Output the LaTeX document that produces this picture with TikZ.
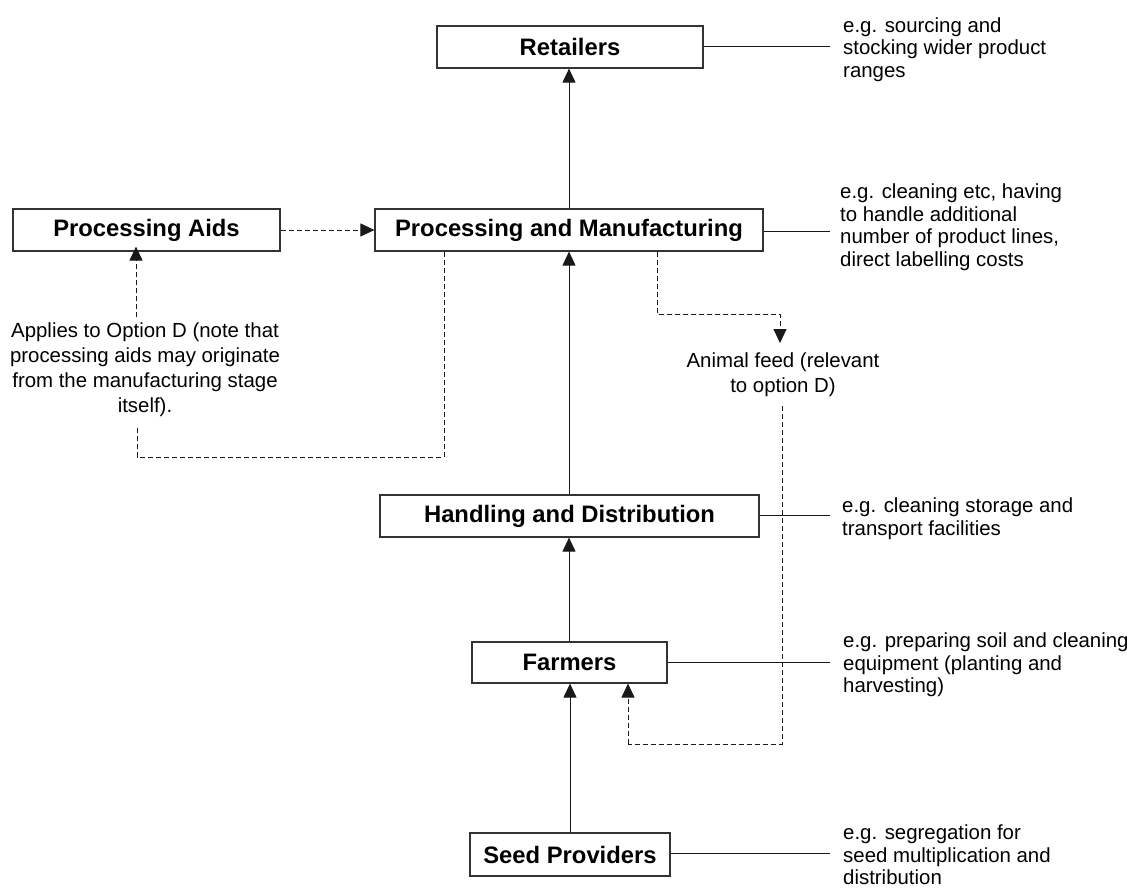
\documentclass[tikz,border=0pt]{standalone}
\usepackage{fontspec}
\setmainfont{Liberation Sans}
\usetikzlibrary{arrows.meta}
\begin{document}
\begin{tikzpicture}[x=1pt,y=-1pt,
  stage/.style={draw=black!80, line width=1.2pt, inner sep=0pt, minimum height=42pt,
    font=\fontsize{23.8}{27}\selectfont\bfseries, text=black},
  note/.style={inner sep=0pt, align=left, anchor=west,
    font=\fontsize{20.4}{22.5}\selectfont},
  link/.style={draw=black!90, line width=1pt},
  flow/.style={link, -{Triangle[length=14pt,width=13pt]}},
  dashline/.style={draw=black!90, line width=1pt, dash pattern=on 5pt off 3pt},
  dflow/.style={dashline, -{Triangle[length=14pt,width=13pt]}}]
\useasboundingbox (0,0) rectangle (1127,888);

% supply chain stages
\node[stage, minimum width=266pt] (ret) at (570,47) {Retailers};
\node[stage, minimum width=388pt] (pm) at (569,230) {Processing and Manufacturing};
\node[stage, minimum width=267pt] (aids) at (146.5,230) {Processing Aids};
\node[stage, minimum width=379pt] (hd) at (569.5,516) {Handling and Distribution};
\node[stage, minimum width=195pt, minimum height=41pt] (fa) at (569.5,662.5) {Farmers};
\node[stage, minimum width=200pt, minimum height=43pt] (sp) at (570,854.5) {Seed Providers};

% main flow upwards
\draw[flow] (sp.north -| 570,0) -- (fa.south -| 570,0);
\draw[flow] (fa.north -| 569,0) -- (hd.south -| 569,0);
\draw[flow] (hd.north -| 569,0) -- (pm.south -| 569,0);
\draw[flow] (pm.north -| 569,0) -- (ret.south -| 569,0);

% processing aids
\draw[dflow] (aids.east) -- (pm.west);
\node[inner sep=0pt, align=center, font=\fontsize{20.4}{25}\selectfont] (aidnote) at (145,370)
  {Applies to Option D (note that\\processing aids may originate\\from the manufacturing stage\\itself).};
\coordinate (aidtop) at (136,317);
\coordinate (aidbot) at (137,427);
\draw[dflow] (aidtop) -- ([yshift=5pt]aidtop |- aids.south);
\draw[dashline] (pm.south -| 444,0) |- (137,457) -- (aidbot);

% animal feed
\node[inner sep=0pt, align=center, font=\fontsize{20.4}{25}\selectfont] (feed) at (783,374.5)
  {Animal feed (relevant\\to option D)};
\coordinate (feedtop) at (780,343);
\coordinate (feedbot) at (782,406);
\draw[dflow] (pm.south -| 657,0) |- (780,314) -- (feedtop);
\draw[dashline] (feedbot) |- (628,744);
\draw[dflow] (628,744) -- (fa.south -| 628,0);

% examples of costs at each stage
\coordinate (eret) at (830,47);
\coordinate (epm) at (830,231);
\coordinate (ehd) at (830,515);
\coordinate (efa) at (830,662);
\coordinate (esp) at (830,853);
\draw[link] (ret.east) -- (eret);
\draw[link] (pm.east |- epm) -- (epm);
\draw[link] (hd.east |- ehd) -- (ehd);
\draw[link] (fa.east |- efa) -- (efa);
\draw[link] (sp.east |- esp) -- (esp);

\node[note] (tret) at (843,49.5) {e.g. sourcing and\\stocking wider product\\ranges};
\node[note] (tpm) at (840,227) {e.g. cleaning etc, having\\to handle additional\\number of product lines,\\direct labelling costs};
\node[note] (thd) at (842,518.5) {e.g. cleaning storage and\\transport facilities};
\node[note] (tfa) at (843,665) {e.g. preparing soil and cleaning\\equipment (planting and\\harvesting)};
\node[note] (tsp) at (843,855) {e.g. segregation for\\seed multiplication and\\distribution};
\end{tikzpicture}
\end{document}
